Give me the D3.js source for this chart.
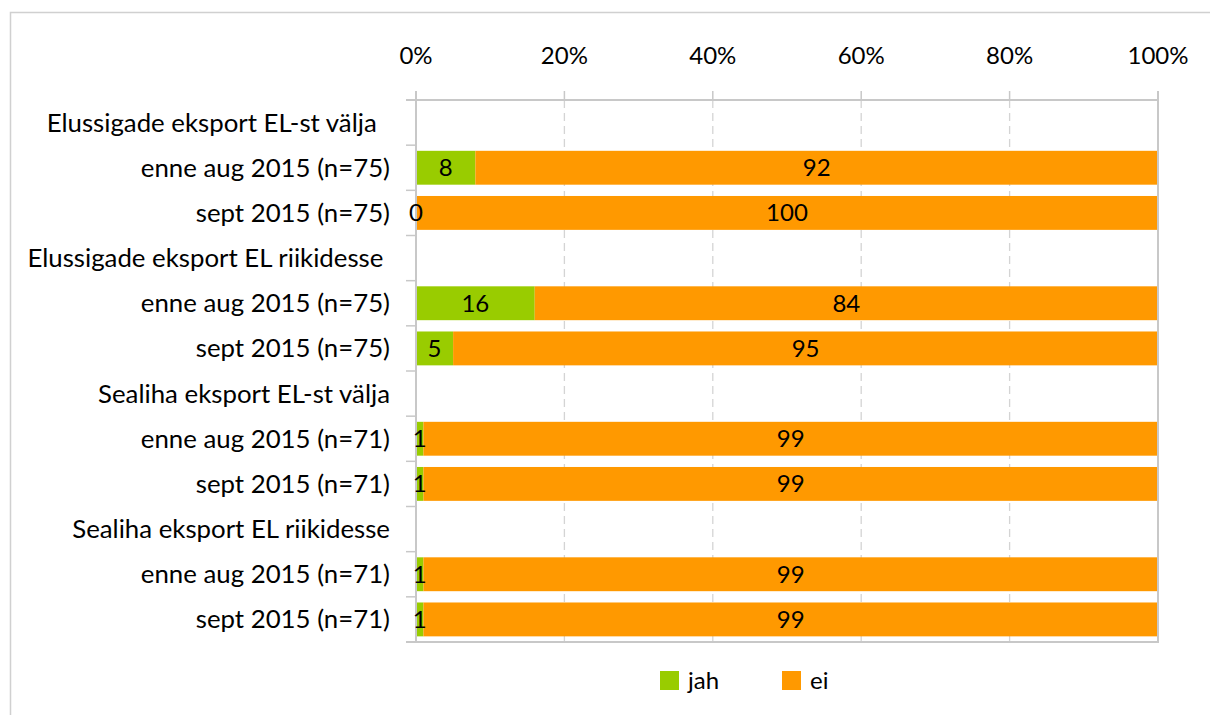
<html>
<head>
<script src="https://d3js.org/d3.v7.min.js"></script>
<style>
body { margin: 0; background: #fff; }
text { font-family: Lato, 'Open Sans', sans-serif; fill: #000; }
.lbl { white-space: pre; }
</style>
</head>
<body>
<div id="chart"></div>
<script>
// rows, top to bottom (group headers have no bars)
var categories = [
  "Elussigade eksport EL-st välja\u00a0\u00a0",
  "enne aug 2015 (n=75)",
  "sept 2015 (n=75)",
  "Elussigade eksport EL riikidesse\u00a0",
  "enne aug 2015 (n=75)",
  "sept 2015 (n=75)",
  "Sealiha eksport EL-st välja",
  "enne aug 2015 (n=71)",
  "sept 2015 (n=71)",
  "Sealiha eksport EL riikidesse",
  "enne aug 2015 (n=71)",
  "sept 2015 (n=71)"
];
var jah = [null, 8, 0, null, 16, 5, null, 1, 1, null, 1, 1];
var ei  = [null, 92, 100, null, 84, 95, null, 99, 99, null, 99, 99];
var seriesNames = ["jah", "ei"];
var seriesColors = ["#99CC00", "#FF9900"];
var ticks = [0, 20, 40, 60, 80, 100];

var W = 1210, H = 715;
var pLeft = 416, pRight = 1158, pTop = 100, pBottom = 642;

var svg = d3.select("#chart").append("svg")
  .attr("width", W).attr("height", H);

// outer frame
svg.append("rect")
  .attr("x", 10.5).attr("y", 12.5)
  .attr("width", W + 20).attr("height", H + 20)
  .attr("fill", "none").attr("stroke", "#d0d0d0").attr("stroke-width", 1.5);

var x = d3.scaleLinear().domain([0, 100]).range([pLeft, pRight]);
var y = d3.scaleBand().domain(d3.range(categories.length))
  .range([pTop, pBottom]).paddingInner(0.25).paddingOuter(0.125);

// gridlines
svg.append("g").selectAll("line")
  .data(ticks.filter(function(t){ return t > 0 && t < 100; }))
  .enter().append("line")
  .attr("x1", function(d){ return x(d); }).attr("x2", function(d){ return x(d); })
  .attr("y1", pTop).attr("y2", pBottom)
  .attr("stroke", "#d4d4d4").attr("stroke-width", 1.3)
  .attr("stroke-dasharray", "8,5");

// top axis tick marks
svg.append("g").selectAll("line")
  .data(ticks).enter().append("line")
  .attr("x1", function(d){ return x(d); }).attr("x2", function(d){ return x(d); })
  .attr("y1", pTop - 9).attr("y2", pTop)
  .attr("stroke", "#c8c8c8").attr("stroke-width", 1.5);

// top axis labels
svg.append("g").selectAll("text")
  .data(ticks).enter().append("text")
  .attr("x", function(d){ return x(d); })
  .attr("y", 64)
  .attr("text-anchor", "middle")
  .style("font-size", "24px")
  .text(function(d){ return d + "%"; });

// bars
var stacks = d3.range(categories.length).map(function(i){
  return [
    { i: i, s: 0, x0: 0, x1: jah[i], v: jah[i] },
    { i: i, s: 1, x0: jah[i], x1: jah[i] + ei[i], v: ei[i] }
  ];
}).filter(function(d){ return d[0].v !== null; });

svg.append("g").selectAll("g")
  .data(stacks).enter().append("g")
  .selectAll("rect")
  .data(function(d){ return d; }).enter().append("rect")
  .attr("x", function(d){ return x(d.x0); })
  .attr("width", function(d){ return x(d.x1) - x(d.x0); })
  .attr("y", function(d){ return y(d.i); })
  .attr("height", y.bandwidth())
  .attr("fill", function(d){ return seriesColors[d.s]; });

// plot frame: axis lines
var frame = svg.append("g").attr("stroke", "#c8c8c8").attr("stroke-width", 2);
frame.append("line").attr("x1", pLeft - 10).attr("x2", pRight).attr("y1", pTop).attr("y2", pTop);
frame.append("line").attr("x1", pLeft - 10).attr("x2", pRight + 1).attr("y1", pBottom).attr("y2", pBottom);
frame.append("line").attr("x1", pLeft).attr("x2", pLeft).attr("y1", pTop - 9).attr("y2", pBottom);
frame.append("line").attr("x1", pRight).attr("x2", pRight).attr("y1", pTop - 9).attr("y2", pBottom);

// category tick marks at row boundaries
var step = y.step();
svg.append("g").selectAll("line")
  .data(d3.range(1, categories.length)).enter().append("line")
  .attr("x1", pLeft - 10).attr("x2", pLeft)
  .attr("y1", function(d){ return y(d) - step * y.paddingInner() / 2; })
  .attr("y2", function(d){ return y(d) - step * y.paddingInner() / 2; })
  .attr("stroke", "#c8c8c8").attr("stroke-width", 1.5);

// value labels (on top of axis lines)
svg.append("g").selectAll("g")
  .data(stacks).enter().append("g")
  .selectAll("text")
  .data(function(d){ return d; }).enter().append("text")
  .attr("x", function(d){ return (x(d.x0) + x(d.x1)) / 2; })
  .attr("y", function(d){ return y(d.i) + y.bandwidth() / 2 + 8.5; })
  .attr("text-anchor", "middle")
  .style("font-size", "24px")
  .text(function(d){ return d.v; });

// category labels
svg.append("g").selectAll("text")
  .data(categories).enter().append("text")
  .attr("class", "lbl")
  .attr("x", 390)
  .attr("y", function(d, i){ return y(i) + y.bandwidth() / 2 + 9; })
  .attr("text-anchor", "end")
  .style("font-size", "25.8px")
  .text(function(d){ return d; });

// legend
var legendX = [660, 782];
var lg = svg.append("g").selectAll("g")
  .data(seriesNames).enter().append("g")
  .attr("transform", function(d, i){ return "translate(" + legendX[i] + ",671)"; });
lg.append("rect").attr("width", 19).attr("height", 19)
  .attr("fill", function(d, i){ return seriesColors[i]; });
lg.append("text").attr("x", 28).attr("y", 18)
  .style("font-size", "24px")
  .text(function(d){ return d; });
</script>
</body>
</html>
